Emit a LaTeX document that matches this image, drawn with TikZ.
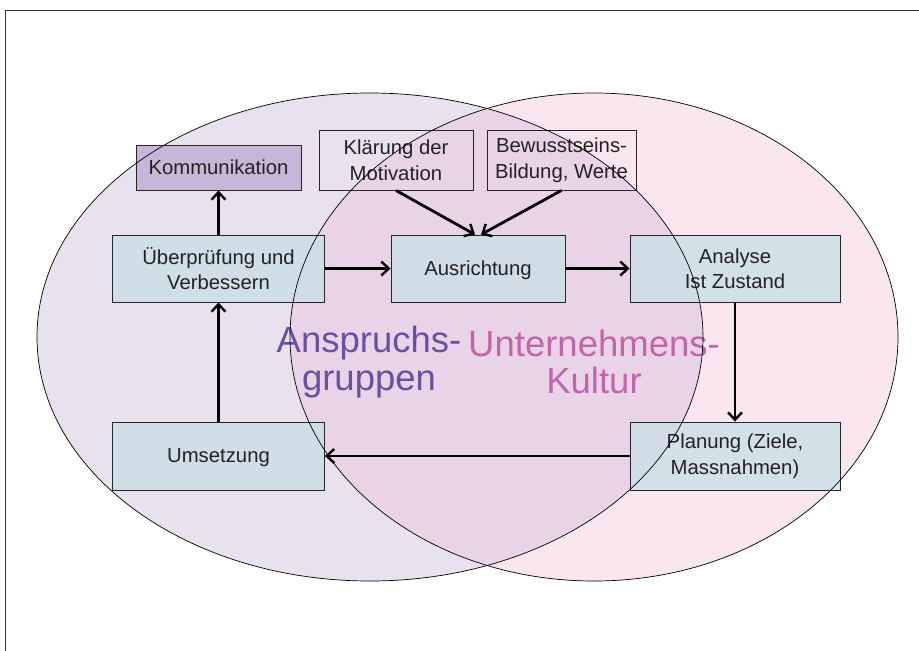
\documentclass[tikz,border=0pt]{standalone}
\usepackage{fontspec}
\setmainfont{Liberation Sans}
\usetikzlibrary{arrows.meta,calc}
\definecolor{lav}{HTML}{E8E1EE}
\definecolor{pinkf}{HTML}{FAE6EF}
\definecolor{mixf}{HTML}{E9D3E7}
\definecolor{boxblue}{HTML}{CCDFE6}
\definecolor{kommf}{HTML}{C8B6D8}
\definecolor{txt}{HTML}{222222}
\definecolor{anspr}{HTML}{6A50A4}
\definecolor{unter}{HTML}{C464AA}
\tikzset{
  box/.style={draw=black!85, line width=0.9pt, minimum width=#1, align=center, text=txt,
    font=\fontsize{20.3}{25.5}\selectfont, inner sep=0pt},
  bluebox/.style={box=#1, fill=boxblue, fill opacity=0.85, text opacity=1},
  oneline/.style={text depth=0pt},
  flow/.style={line width=2.8pt, -{Straight Barb[length=7.5pt,width=14pt,line width=2.4pt]}},
  big/.style={font=\fontsize{36.5}{37.5}\selectfont, align=center}
}
\begin{document}
\begin{tikzpicture}[x=1pt,y=-1pt]
\useasboundingbox (0,0) rectangle (919,651);
\begin{scope}
\clip (0,0) rectangle (919,651);
\draw[black!80, line width=0.9pt] (5.5,10.5) rectangle (940,670);
\end{scope}
% ellipses
\fill[lav] (370,337) ellipse [x radius=333, y radius=244];
\fill[pinkf] (594,337) ellipse [x radius=304, y radius=244];
\begin{scope}
\clip (370,337) ellipse [x radius=333, y radius=244];
\fill[mixf] (594,337) ellipse [x radius=304, y radius=244];
\end{scope}
% big labels
\node[big, text=anspr] (ag) at (369,362) {Anspruchs-\\gruppen};
\node[big, text=unter] (uk) at (594,362) {Unternehmens-\\Kultur};
% boxes
\node[box=165pt, minimum height=45pt, fill=kommf, oneline] (komm) at (218.5,167.5) {Kommunikation};
\node[box=154pt, minimum height=60pt] (klar) at (396,160) {Klärung der\\Motivation};
\node[box=149pt, minimum height=60pt] (bew) at (561.5,160) {Bewusstseins-\\Bildung, Werte};
\node[bluebox=212pt, minimum height=67pt] (ueb) at (218.5,268.5) {Überprüfung und\\Verbessern};
\node[bluebox=174pt, minimum height=67pt, oneline] (aus) at (478,268.5) {Ausrichtung};
\node[bluebox=210pt, minimum height=67pt] (ana) at (735,268.5) {Analyse\\Ist Zustand};
\node[bluebox=210pt, minimum height=68pt] (plan) at (735,456) {Planung (Ziele,\\Massnahmen)};
\node[bluebox=212pt, minimum height=68pt, oneline] (ums) at (218.5,456) {Umsetzung};
% ellipse outlines on top
\draw[black, line width=0.7pt] (370,337) ellipse [x radius=333, y radius=244];
\draw[black, line width=0.7pt] (594,337) ellipse [x radius=304, y radius=244];
% connectors
\draw[flow] (ueb.north) -- (komm.south);
\draw[flow] (ums.north) -- (ueb.south);
\draw[flow] (ueb.east) -- (aus.west);
\draw[flow] (aus.east) -- (ana.west);
\draw[flow] (ana.south) -- (plan.north);
\draw[flow] (plan.west) -- (ums.east);
\draw[flow] (klar.south) -- ([xshift=-3pt]aus.north);
\draw[flow] (bew.south) -- ([xshift=3pt]aus.north);
\end{tikzpicture}
\end{document}
